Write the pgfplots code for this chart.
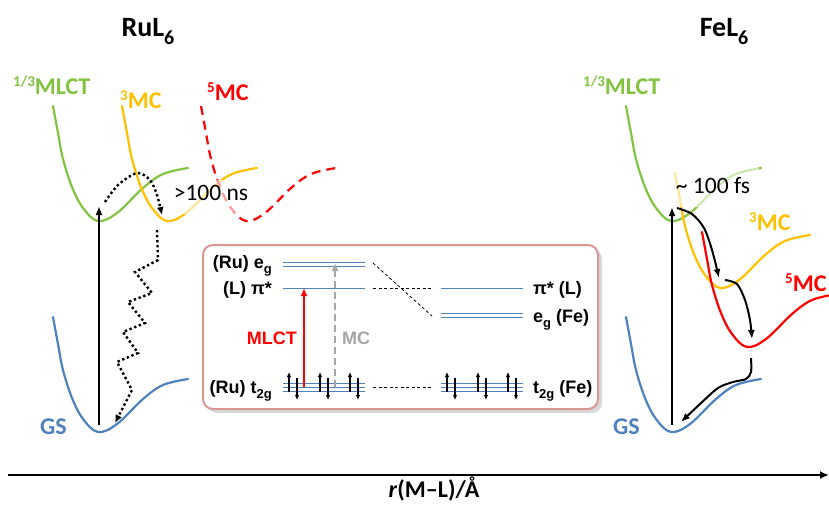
\documentclass[border=0pt]{standalone}
\usepackage{pgfplots}
\pgfplotsset{compat=1.18}
\usepackage{fontspec}
\setmainfont{Carlito}
\newfontfamily\arialfont{Liberation Sans}
\usetikzlibrary{arrows.meta}
\definecolor{cgreen}{HTML}{82C341}
\definecolor{corange}{HTML}{FFC000}
\definecolor{cred}{HTML}{FF0000}
\definecolor{cblue}{HTML}{4F81BD}
\definecolor{cgray}{HTML}{A6A6A6}
\definecolor{cbox}{HTML}{D99694}
\newcommand\supr[1]{\raisebox{7.5pt}{\fontsize{15}{15}\selectfont #1}}
\newcommand\tsub[1]{\raisebox{-8pt}{\fontsize{20}{20}\selectfont #1}}
\newcommand\isub[1]{\raisebox{-5pt}{\fontsize{13}{13}\selectfont #1}}
\newcommand\lab{\fontsize{24}{28}\selectfont\bfseries}
\newcommand\ttl{\fontsize{28}{32}\selectfont\bfseries}
\newcommand\ins{\arialfont\fontsize{18}{20}\selectfont\bfseries}
\begin{document}
\begin{tikzpicture}
\begin{axis}[
  scale only axis, width=829pt, height=504pt,
  xmin=0, xmax=829, ymin=0, ymax=504, y dir=reverse,
  hide axis, clip=false, no markers,
  curve/.style={line width=2.2pt, smooth, tension=0.6, line cap=round, line join=round},
  lvl/.style={cblue, line width=1pt},
  conn/.style={black, line width=0.8pt, dash pattern=on 3pt off 2.5pt},
  eup/.style={black, line width=1.4pt, -{Latex[length=5pt,width=4.5pt]}},
  dots/.style={black, line width=2.4pt, dash pattern=on 2.4pt off 2.6pt, line cap=butt, -{Latex[length=8pt,width=7pt]}},
  bigarrow/.style={black, line width=2pt, -{Latex[length=9pt,width=7pt]}},
]
\coordinate (BL) at (axis cs:0,504);
\coordinate (TR) at (axis cs:829,0);
% ---------- RuL6 potential curves ----------
\addplot[curve, cgreen] coordinates {(53,106)(58,133)(63,159)(72,187)(83,208)(98,221)(117,213)(143,188)(163,174)(188,168)};
\addplot[curve, corange] coordinates {(122,106)(127,133)(132,159)(141,187)(152,208)(167,221)(186,213)(212,188)(232,174)(257,168)};
\addplot[curve, cred, line cap=butt, dash pattern=on 9pt off 6pt] coordinates {(201,106)(206,133)(211,159)(220,187)(231,208)(246,221)(265,213)(291,188)(311,174)(336,168)};
\addplot[curve, cblue] coordinates {(53,317)(58,344)(63,370)(72,398)(83,419)(98,432)(117,424)(143,399)(163,385)(188,379)};
% ---------- FeL6 potential curves ----------
\addplot[curve, cgreen] coordinates {(626,106)(631,133)(636,159)(645,187)(656,208)(671,221)(690,213)(716,188)(736,174)(761,168)};
\addplot[curve, corange] coordinates {(675,173)(680,200)(685,226)(694,254)(705,275)(720,288)(739,280)(765,255)(785,241)(810,235)};
\addplot[curve, cred] coordinates {(702,232)(707,259)(712,285)(721,313)(732,334)(747,347)(766,339)(792,314)(812,300)(837,294)};
\addplot[curve, cblue] coordinates {(626,317)(631,344)(636,370)(645,398)(656,419)(671,432)(690,424)(716,399)(736,385)(761,379)};
% ---------- time labels with translucent background ----------
\node[anchor=base, fill=white, fill opacity=0.6, text opacity=1, inner xsep=2pt, inner ysep=0pt, text height=20pt, text depth=14pt, font=\fontsize{23.5}{26}\selectfont] at (axis cs:211,200) {>100 ns};
\node[anchor=base, fill=white, fill opacity=0.6, text opacity=1, inner xsep=9pt, inner ysep=0pt, text height=28pt, text depth=14pt, font=\fontsize{23.5}{26}\selectfont] at (axis cs:713,193) {\textasciitilde{} 100 fs};
% ---------- Ru arrows ----------
\addplot[bigarrow] coordinates {(99,425)(99,206)};
\addplot[dots, smooth] coordinates {(105,202)(118,185)(137,173)(150,180)(157,195)(162,215)};
\addplot[dots] coordinates {(157,230)(158,260)(135,272)(152,293)(128,302)(145,323)(123,332)(138,353)(117,362)(132,390)(115,423)};
% ---------- Fe arrows ----------
\addplot[bigarrow] coordinates {(672,425)(672,207)};
\addplot[bigarrow, smooth] coordinates {(677,208)(692,214)(704,228)(712,250)(719,278)};
\addplot[bigarrow, smooth] coordinates {(725,280)(737,284)(745,300)(750,320)(752,339)};
\addplot[bigarrow, smooth, tension=0.5] coordinates {(751,358)(751,372)(746,379)(733,382)(718,388)(700,404)(681,422)};
% ---------- labels ----------
\node[anchor=base, font=\ttl] at (axis cs:148,36) {RuL\tsub{6}};
\node[anchor=base, font=\ttl] at (axis cs:724,36) {FeL\tsub{6}};
\node[anchor=base west, inner sep=0pt, font=\lab, text=cgreen] at (axis cs:13,94) {\supr{1/3}MLCT};
\node[anchor=base west, inner sep=0pt, font=\lab, text=corange] at (axis cs:120,108) {\supr{3}MC};
\node[anchor=base west, inner sep=0pt, font=\lab, text=cred] at (axis cs:207,100) {\supr{5}MC};
\node[anchor=base west, inner sep=0pt, font=\lab, text=cblue] at (axis cs:40,434) {GS};
\node[anchor=base west, inner sep=0pt, font=\lab, text=cgreen] at (axis cs:583,94) {\supr{1/3}MLCT};
\node[anchor=base west, inner sep=0pt, font=\lab, text=corange] at (axis cs:749,230) {\supr{3}MC};
\node[anchor=base west, inner sep=0pt, font=\lab, text=cred] at (axis cs:785,291) {\supr{5}MC};
\node[anchor=base west, inner sep=0pt, font=\lab, text=cblue] at (axis cs:613,434) {GS};
% ---------- r axis ----------
\addplot[black, line width=2.4pt, -{Latex[length=9pt,width=8pt]}] coordinates {(8,475)(829,475)};
\node[anchor=base, inner sep=0pt, font=\lab] at (axis cs:434,497.5) {\textit{r}(M–L)/Å};
% ---------- inset box ----------
\addplot[draw=none, fill=black!15, rounded corners=10pt] coordinates {(403,249)(602,249)(602,413)(207,413)(207,249)(403,249)};
\addplot[cbox, line width=2pt, fill=white, rounded corners=10pt] coordinates {(400,245)(598,245)(598,409)(203,409)(203,245)(400,245)};
% levels Ru
\addplot[lvl] coordinates {(283,262.5)(365,262.5)};
\addplot[lvl] coordinates {(283,266.5)(365,266.5)};
\addplot[lvl] coordinates {(283,288)(365,288)};
\addplot[lvl] coordinates {(283,383)(365,383)};
\addplot[lvl] coordinates {(283,387)(365,387)};
\addplot[lvl] coordinates {(283,391)(365,391)};
% levels Fe
\addplot[lvl] coordinates {(441,288)(523,288)};
\addplot[lvl] coordinates {(441,313)(523,313)};
\addplot[lvl] coordinates {(441,317)(523,317)};
\addplot[lvl] coordinates {(441,383)(523,383)};
\addplot[lvl] coordinates {(441,387)(523,387)};
\addplot[lvl] coordinates {(441,391)(523,391)};
% connectors
\addplot[conn] coordinates {(373,263)(432,316)};
\addplot[conn] coordinates {(373,288)(432,288)};
\addplot[conn] coordinates {(373,387)(432,387)};
% transitions
\addplot[cred, line width=2.5pt, -{Latex[length=8pt,width=7pt]}] coordinates {(304,387)(304,288)};
\addplot[cgray, line width=2.5pt, dash pattern=on 7pt off 4pt, -{Latex[length=8pt,width=7pt]}] coordinates {(335,387)(335,263)};
% electrons Ru
\addplot[eup] coordinates {(289,392)(289,372)};
\addplot[eup] coordinates {(297,378)(297,400)};
\addplot[eup] coordinates {(320,392)(320,372)};
\addplot[eup] coordinates {(328,378)(328,400)};
\addplot[eup] coordinates {(350,392)(350,372)};
\addplot[eup] coordinates {(358,378)(358,400)};
% electrons Fe
\addplot[eup] coordinates {(447,392)(447,372)};
\addplot[eup] coordinates {(455,378)(455,400)};
\addplot[eup] coordinates {(478,392)(478,372)};
\addplot[eup] coordinates {(486,378)(486,400)};
\addplot[eup] coordinates {(508,392)(508,372)};
\addplot[eup] coordinates {(516,378)(516,400)};
% inset labels
\node[anchor=base east, inner sep=0pt, font=\ins] at (axis cs:272,268) {(Ru) e\isub{g}};
\node[anchor=base east, inner sep=0pt, font=\ins] at (axis cs:272,294) {(L) π*};
\node[anchor=base east, inner sep=0pt, font=\ins] at (axis cs:272,393) {(Ru) t\isub{2g}};
\node[anchor=base west, inner sep=0pt, font=\ins] at (axis cs:533,294) {π* (L)};
\node[anchor=base west, inner sep=0pt, font=\ins] at (axis cs:533,322) {e\isub{g} (Fe)};
\node[anchor=base west, inner sep=0pt, font=\ins] at (axis cs:533,393) {t\isub{2g} (Fe)};
\node[anchor=base east, inner sep=0pt, font=\ins, text=cred] at (axis cs:297,344) {MLCT};
\node[anchor=base west, inner sep=0pt, font=\ins, text=cgray] at (axis cs:342,344) {MC};
\end{axis}
\pgfresetboundingbox
\path (BL) rectangle (TR);
\end{tikzpicture}
\end{document}
